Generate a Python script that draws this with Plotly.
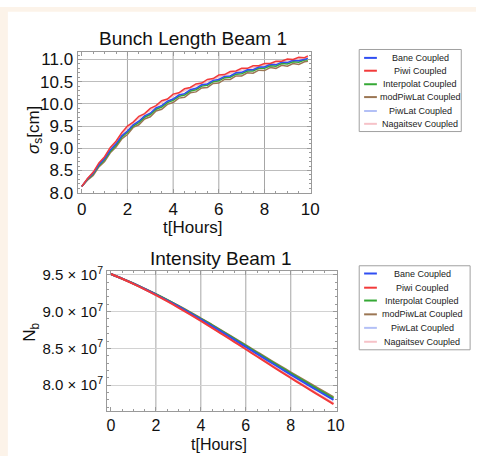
import plotly.graph_objects as go

W, H = 485, 465

# ---------------- data ----------------
series_names = ["Bane Coupled", "Piwi Coupled", "Interpolat Coupled",
                "modPiwLat Coupled", "PiwLat Coupled", "Nagaitsev Coupled"]
series_colors = ["#2f4ef2", "#f23a3a", "#35a835", "#9b7653", "#b3c0f6", "#f6c2c8"]

# Bunch length (cm) vs time (hours)
t_len = [0.00, 0.25, 0.50, 0.75, 1.00, 1.25, 1.50, 1.75, 2.00, 2.25,
         2.50, 2.75, 3.00, 3.25, 3.50, 3.75, 4.00, 4.25, 4.50, 4.75,
         5.00, 5.25, 5.50, 5.75, 6.00, 6.25, 6.50, 6.75, 7.00, 7.25,
         7.50, 7.75, 8.00, 8.25, 8.50, 8.75, 9.00, 9.25, 9.50, 9.75, 9.90]
len_bane = [8.14, 8.31, 8.44, 8.63, 8.77, 8.96, 9.10, 9.28, 9.39, 9.53,
            9.61, 9.73, 9.79, 9.91, 9.96, 10.06, 10.11, 10.20, 10.23, 10.32,
            10.35, 10.43, 10.45, 10.53, 10.55, 10.62, 10.63, 10.70, 10.71, 10.77,
            10.77, 10.83, 10.83, 10.89, 10.88, 10.94, 10.93, 10.98, 10.97, 11.01, 11.02]
len_piwi = [8.14, 8.32, 8.46, 8.67, 8.81, 9.02, 9.16, 9.35, 9.50, 9.59,
            9.72, 9.78, 9.90, 9.96, 10.07, 10.11, 10.22, 10.25, 10.34, 10.37,
            10.45, 10.47, 10.55, 10.57, 10.65, 10.66, 10.73, 10.74, 10.80, 10.80,
            10.86, 10.86, 10.91, 10.91, 10.96, 10.96, 11.01, 11.00, 11.05, 11.04, 11.08]
len_interp = [8.14, 8.30, 8.42, 8.61, 8.74, 8.93, 9.07, 9.25, 9.36, 9.50,
              9.58, 9.70, 9.76, 9.88, 9.93, 10.03, 10.08, 10.17, 10.20, 10.29,
              10.32, 10.40, 10.42, 10.50, 10.52, 10.59, 10.60, 10.67, 10.68, 10.74,
              10.74, 10.80, 10.80, 10.86, 10.85, 10.91, 10.90, 10.95, 10.94, 10.99, 10.99]
len_modpiwlat = [8.14, 8.28, 8.39, 8.58, 8.70, 8.90, 9.03, 9.21, 9.31, 9.47,
                 9.53, 9.66, 9.71, 9.84, 9.88, 9.99, 10.03, 10.13, 10.15, 10.25,
                 10.27, 10.36, 10.37, 10.46, 10.47, 10.55, 10.55, 10.63, 10.63, 10.70,
                 10.69, 10.76, 10.75, 10.82, 10.80, 10.87, 10.85, 10.91, 10.89, 10.95, 10.96]
len_piwlat = [8.14, 8.30, 8.44, 8.61, 8.77, 8.94, 9.10, 9.25, 9.39, 9.51,
              9.61, 9.70, 9.79, 9.88, 9.96, 10.03, 10.11, 10.17, 10.23, 10.29,
              10.35, 10.40, 10.45, 10.50, 10.55, 10.59, 10.63, 10.67, 10.71, 10.74,
              10.77, 10.80, 10.83, 10.86, 10.88, 10.91, 10.93, 10.95, 10.97, 10.99, 11.01]
len_nagaitsev = [8.14, 8.30, 8.46, 8.64, 8.80, 8.98, 9.15, 9.31, 9.46, 9.58,
                 9.68, 9.77, 9.86, 9.95, 10.03, 10.10, 10.18, 10.24, 10.30, 10.36,
                 10.41, 10.46, 10.51, 10.56, 10.61, 10.65, 10.69, 10.73, 10.76, 10.79,
                 10.82, 10.85, 10.87, 10.90, 10.92, 10.95, 10.97, 10.99, 11.01, 11.03, 11.05]

# Intensity (units of 1e7 particles) vs time (hours)
t_int = [0.0, 0.5, 1.0, 1.5, 2.0, 2.5, 3.0, 3.5, 4.0, 4.5,
         5.0, 5.5, 6.0, 6.5, 7.0, 7.5, 8.0, 8.5, 9.0, 9.5, 9.9]
int_bane = [9.510, 9.447, 9.379, 9.306, 9.231, 9.152, 9.069, 8.983, 8.894, 8.803,
            8.710, 8.616, 8.521, 8.426, 8.331, 8.237, 8.144, 8.052, 7.961, 7.871, 7.800]
int_piwi = [9.510, 9.445, 9.375, 9.300, 9.222, 9.140, 9.054, 8.965, 8.873, 8.779,
            8.683, 8.586, 8.488, 8.390, 8.292, 8.195, 8.099, 8.004, 7.910, 7.817, 7.743]
int_interp = [9.510, 9.448, 9.381, 9.308, 9.235, 9.157, 9.075, 8.990, 8.902, 8.813,
              8.721, 8.628, 8.534, 8.440, 8.347, 8.254, 8.162, 8.071, 7.981, 7.893, 7.823]
int_modpiwlat = [9.510, 9.448, 9.382, 9.310, 9.237, 9.160, 9.080, 8.996, 8.909, 8.820,
                 8.729, 8.637, 8.544, 8.451, 8.358, 8.266, 8.176, 8.086, 7.997, 7.909, 7.840]
int_piwlat = [9.510, 9.448, 9.381, 9.308, 9.234, 9.156, 9.074, 8.989, 8.901, 8.811,
              8.719, 8.626, 8.532, 8.438, 8.344, 8.251, 8.159, 8.068, 7.978, 7.889, 7.819]
int_nagaitsev = [9.510, 9.445, 9.376, 9.301, 9.224, 9.142, 9.057, 8.968, 8.877, 8.783,
                 8.688, 8.592, 8.495, 8.397, 8.300, 8.204, 8.109, 8.015, 7.922, 7.830, 7.757]

len_tick_vals = [8.0, 8.5, 9.0, 9.5, 10.0, 10.5, 11.0]
int_tick_vals = [8.0, 8.5, 9.0, 9.5]          # x 1e7
int_tick_text = ["8.0 × 10<sup>7</sup>", "8.5 × 10<sup>7</sup>",
                 "9.0 × 10<sup>7</sup>", "9.5 × 10<sup>7</sup>"]
x_tick_vals = [0, 2, 4, 6, 8, 10]
grid_x = [2, 4, 6, 8]

# ---------------- helpers ----------------
def px(x):
    return x / W

def py(y):
    return 1 - y / H

FONT = "Liberation Sans, Arial, Helvetica, sans-serif"

fig = go.Figure()

len_data = [len_bane, len_piwi, len_interp, len_modpiwlat, len_piwlat, len_nagaitsev]
int_data = [int_bane, int_piwi, int_interp, int_modpiwlat, int_piwlat, int_nagaitsev]
draw_order = [4, 5, 3, 2, 0, 1]  # light ones underneath

for i in draw_order:
    fig.add_trace(go.Scatter(x=t_len, y=len_data[i], mode="lines", name=series_names[i],
                             line=dict(color=series_colors[i], width=1.5),
                             xaxis="x", yaxis="y", showlegend=False))
for i in draw_order:
    fig.add_trace(go.Scatter(x=t_int, y=[v * 1e7 for v in int_data[i]], mode="lines",
                             name=series_names[i], line_shape="spline",
                             line=dict(color=series_colors[i], width=2),
                             xaxis="x2", yaxis="y2", showlegend=False))

frame_col = "#9a9a9a"
axis_common = dict(showline=True, linecolor=frame_col, linewidth=1, mirror="allticks",
                   ticks="inside", tickcolor=frame_col, ticklen=4, tickwidth=1,
                   zeroline=False)

fig.update_layout(
    width=W, height=H, margin=dict(l=0, r=0, t=0, b=0),
    paper_bgcolor="white", plot_bgcolor="white", showlegend=False,
    xaxis=dict(domain=[px(79), px(317)], range=[-0.185, 10.04], anchor="y",
               tickvals=x_tick_vals, showgrid=False,
               minor=dict(dtick=0.5, ticks="inside", ticklen=2, tickcolor=frame_col, showgrid=False),
               tickfont=dict(family=FONT, color="#111", size=17), **axis_common),
    yaxis=dict(domain=[py(193), py(47)], range=[7.985, 11.16], anchor="x",
               tickvals=len_tick_vals, ticktext=[f"{v:.1f}" for v in len_tick_vals],
               showgrid=True, gridcolor="#bdbdbd", gridwidth=1,
               minor=dict(dtick=0.1, ticks="inside", ticklen=2, tickcolor=frame_col, showgrid=False),
               tickfont=dict(family=FONT, color="#111", size=17), **axis_common),
    xaxis2=dict(domain=[px(109), px(343)], range=[-0.175, 10.04], anchor="y2",
                tickvals=x_tick_vals, showgrid=False,
                minor=dict(dtick=0.5, ticks="inside", ticklen=2, tickcolor=frame_col, showgrid=False),
                tickfont=dict(family=FONT, color="#111", size=16), **axis_common),
    yaxis2=dict(domain=[py(418), py(273)], range=[7.655e7, 9.556e7], anchor="x2",
                tickvals=[v * 1e7 for v in int_tick_vals], ticktext=int_tick_text,
                showgrid=True, gridcolor="#d2d2d2", gridwidth=1,
                minor=dict(dtick=0.1e7, ticks="inside", ticklen=2, tickcolor=frame_col, showgrid=False),
                tickfont=dict(family=FONT, color="#111", size=15), **axis_common),
)

shapes = []
# beige page border (left & top)
beige = "#fcf3e9"
shapes.append(dict(type="rect", xref="paper", yref="paper", x0=0, x1=px(8), y0=0, y1=1,
                   fillcolor=beige, line=dict(width=0), layer="below"))
shapes.append(dict(type="rect", xref="paper", yref="paper", x0=0, x1=1, y0=py(5), y1=1,
                   fillcolor=beige, line=dict(width=0), layer="below"))
# vertical grid lines
for g in grid_x:
    shapes.append(dict(type="line", xref="x", yref="y domain", x0=g, x1=g, y0=0, y1=1,
                       line=dict(color="#a6a6a6", width=1), layer="below"))
    shapes.append(dict(type="line", xref="x2", yref="y2 domain", x0=g, x1=g, y0=0, y1=1,
                       line=dict(color="#a6a6a6", width=1), layer="below"))

annotations = []

def add_legend(box, rows, text_cx):
    x0, x1, y0, y1 = box
    shapes.append(dict(type="rect", xref="paper", yref="paper",
                       x0=px(x0), x1=px(x1), y0=py(y1), y1=py(y0),
                       fillcolor="white", line=dict(color="#a0a0a0", width=1)))
    for i, ry in enumerate(rows):
        shapes.append(dict(type="line", xref="paper", yref="paper",
                           x0=px(x0 + 5), x1=px(x0 + 18), y0=py(ry), y1=py(ry),
                           line=dict(color=series_colors[i], width=2)))
        annotations.append(dict(text=series_names[i], xref="paper", yref="paper",
                                x=px(text_cx), y=py(ry), xanchor="center", yanchor="middle",
                                showarrow=False, font=dict(family=FONT, size=9, color="#222")))

add_legend((366, 470, 44, 129), [52.7, 66, 80, 93.3, 107.7, 121], 428)
add_legend((366, 479, 268, 355), [276, 290.7, 304, 318.3, 332.3, 346.7], 430)

def label(text, x, y, size, angle=0):
    annotations.append(dict(text=text, xref="paper", yref="paper", x=px(x), y=py(y),
                            xanchor="center", yanchor="middle", showarrow=False,
                            textangle=angle, font=dict(family=FONT, size=size, color="#111")))

label("Bunch Length Beam 1", 197, 33, 19)
label("t[Hours]", 197, 228, 17)
label("<i>σ</i><sub>s</sub>[cm]", 35, 127, 17, -90)
label("Intensity Beam 1", 225, 260, 19)
label("t[Hours]", 223, 453, 16)
label("N<sub>b</sub>", 32, 337, 17, -90)

fig.update_layout(shapes=shapes, annotations=annotations)

fig.write_html("out.html")
